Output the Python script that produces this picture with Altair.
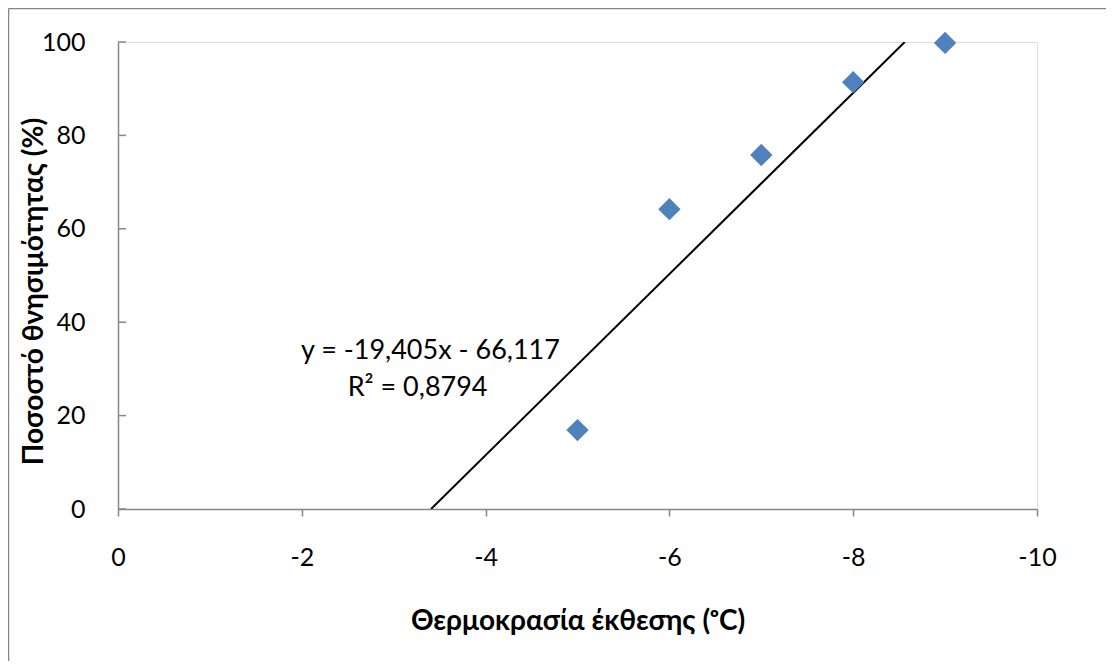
import altair as alt
import pandas as pd

# Data
temps = [-5, -6, -7, -8, -9]
mortality = [16.9, 64.2, 75.8, 91.4, 99.8]

# Excel linear trendline (y = -19.405x - 66.117), drawn between y=0 and y=100
trend_x = [-3.407, -8.561]
trend_y = [0, 100]

x_ticks = [0, -2, -4, -6, -8, -10]
y_ticks = [0, 20, 40, 60, 80, 100]

eq_lines = ["y = -19,405x - 66,117", "R² = 0,8794"]
eq_x = [-3.40, -3.26]
eq_y = [33.8, 25.9]

FONT = "Lato"
GRAY = "#868686"
BLUE = "#4F81BD"

W, H = 919, 467

pts = pd.DataFrame({"t": temps, "m": mortality})
trend = pd.DataFrame({"t": trend_x, "m": trend_y})
eq = pd.DataFrame({"t": eq_x, "m": eq_y, "label": eq_lines})
yt = pd.DataFrame({"m": y_ticks})

xscale = alt.Scale(domain=[0, -10], nice=False, zero=False)
yscale = alt.Scale(domain=[0, 100], nice=False)

xaxis = alt.Axis(
    values=x_ticks, title="Θερμοκρασία έκθεσης (ᵒC)", labelExpr="'' + datum.value",
    grid=False, domainColor=GRAY, domainWidth=1.5, tickColor=GRAY, tickWidth=1.5,
    tickSize=7, labelPadding=29, labelFlush=False, labelFont=FONT, labelFontSize=25,
    labelColor="black", titleFont=FONT, titleFontSize=28, titleFontWeight="bold",
    titleColor="black", titlePadding=37,
)
yaxis = alt.Axis(
    values=y_ticks, title="Ποσοστό θνησιμότητας  (%)", grid=False, ticks=False,
    domainColor=GRAY, domainWidth=1.5, labelPadding=33, labelFlush=False,
    labelFont=FONT, labelFontSize=25, labelColor="black", titleFont=FONT,
    titleFontSize=28, titleFontWeight="bold", titleColor="black",
    titleX=-84, titleY=249, titleBaseline="middle", titleAngle=270,
)

frame = pd.DataFrame({"a": [0]})
border_left = alt.Chart(frame).mark_rule(color=GRAY, strokeWidth=1.5).encode(
    x=alt.value(-109.5), y=alt.value(-33.5), y2=alt.value(H + 400),
)
border_top = alt.Chart(frame).mark_rule(color=GRAY, strokeWidth=1.5).encode(
    x=alt.value(-109.5), x2=alt.value(W + 400), y=alt.value(-33.5),
)

inner_ticks = alt.Chart(yt).mark_rule(color=GRAY, strokeWidth=1.5).encode(
    y=alt.Y("m:Q", scale=yscale, axis=yaxis),
    x=alt.value(0), x2=alt.value(8),
)

line = alt.Chart(trend).mark_line(color="black", strokeWidth=2, clip=True).encode(
    x=alt.X("t:Q", scale=xscale, axis=xaxis),
    y=alt.Y("m:Q", scale=yscale),
)

points = alt.Chart(pts).mark_point(
    shape="diamond", filled=True, color=BLUE, size=500, opacity=1
).encode(
    x=alt.X("t:Q", scale=xscale),
    y=alt.Y("m:Q", scale=yscale),
)

text = alt.Chart(eq).mark_text(
    font=FONT, fontSize=27, color="black", align="center", baseline="middle"
).encode(
    x=alt.X("t:Q", scale=xscale),
    y=alt.Y("m:Q", scale=yscale),
    text="label:N",
)

chart = alt.layer(border_left, border_top, inner_ticks, line, points, text).properties(
    width=W, height=H,
    autosize=alt.AutoSizeParams(type="none"),
    padding={"left": 110, "top": 34, "right": 69, "bottom": 152},
).configure_view(strokeWidth=0).configure(background="white")

chart.save("out.html", embed_options={"renderer": "svg", "actions": False})
